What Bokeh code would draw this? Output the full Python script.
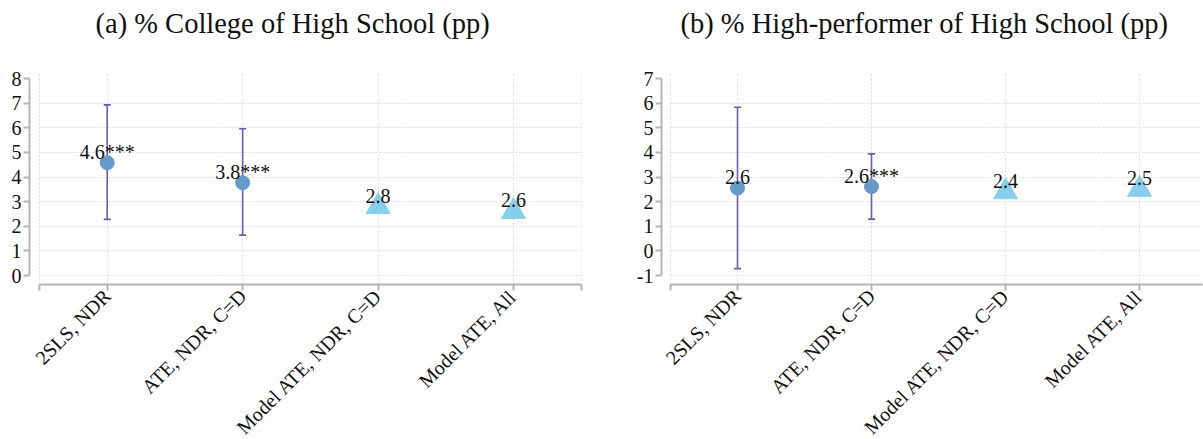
import math
from bokeh.plotting import figure
from bokeh.layouts import row
from bokeh.models import FixedTicker, Range1d, Title
from bokeh.embed import file_html
from bokeh.resources import INLINE
from bokeh.core.properties import value

# ---------------- data ----------------
categories = ["2SLS, NDR", "ATE, NDR, C=D", "Model ATE, NDR, C=D", "Model ATE, All"]
est_x = [1, 2]
model_x = [3, 4]

a_title = "(a) % College of High School (pp)"
a_est = [4.58, 3.77]
a_lo = [2.28, 1.64]
a_hi = [6.93, 5.96]
a_model = [2.8, 2.6]
a_labels = ["4.6***", "3.8***", "2.8", "2.6"]
a_yticks = [0, 1, 2, 3, 4, 5, 6, 7, 8]

b_title = "(b) % High-performer of High School (pp)"
b_est = [2.55, 2.61]
b_lo = [-0.72, 1.29]
b_hi = [5.83, 3.94]
b_model = [2.4, 2.5]
b_labels = ["2.6", "2.6***", "2.4", "2.5"]
b_yticks = [-1, 0, 1, 2, 3, 4, 5, 6, 7]

# ---------------- style ----------------
FONT = "Liberation Serif"
AXIS_COLOR = "#B4B4B4"
GRID_COLOR = "#DADADA"
BAR_COLOR = "#6A5BAE"
DOT_COLOR = "#6699CC"
TRI_COLOR = "#87CEEB"
xticks = [0.5, 1, 2, 3, 4, 4.5]


def panel(title, est, lo, hi, model, labels, yticks, yr, xr, frame_w,
          mb_left, mb_right, title_offset):
    p = figure(frame_width=frame_w, frame_height=212,
               x_range=Range1d(*xr), y_range=Range1d(*yr),
               output_backend="svg", toolbar_location=None,
               min_border_left=mb_left, min_border_right=mb_right,
               min_border_top=72, min_border_bottom=147)
    p.outline_line_color = None
    p.background_fill_color = "white"
    p.border_fill_color = "white"

    # title, pushed up by a blank spacer between it and the frame
    p.title = None
    spacer = Title(text=" ", text_font_size="24px", standoff=0)
    main = Title(text=title, text_font=FONT, text_font_size="28.5px",
                 text_font_style="normal", text_color="#111111",
                 align="left", offset=title_offset)
    p.add_layout(spacer, "above")
    p.add_layout(main, "above")

    # y axis
    ya = p.yaxis[0]
    ya.ticker = FixedTicker(ticks=yticks)
    ya.major_label_overrides = {t: str(t) for t in yticks}
    ya.bounds = (yticks[0], yticks[-1])
    ya.axis_line_color = AXIS_COLOR
    ya.axis_line_width = 2
    ya.major_tick_line_color = AXIS_COLOR
    ya.major_tick_line_width = 2
    ya.major_tick_out = 6
    ya.major_tick_in = 0
    ya.minor_tick_line_color = None
    ya.major_label_standoff = 2
    ya.major_label_text_font = FONT
    ya.major_label_text_font_size = "20px"
    ya.major_label_text_color = "#111111"

    # x axis
    xa = p.xaxis[0]
    xa.ticker = FixedTicker(ticks=xticks)
    overrides = {0.5: "", 4.5: ""}
    for i, c in enumerate(categories):
        overrides[i + 1] = c
    xa.major_label_overrides = overrides
    xa.bounds = (0.5, 4.5)
    xa.axis_line_color = AXIS_COLOR
    xa.axis_line_width = 2
    xa.major_tick_line_color = AXIS_COLOR
    xa.major_tick_line_width = 2
    xa.major_tick_out = 6
    xa.major_tick_in = 0
    xa.minor_tick_line_color = None
    xa.major_label_standoff = 2
    xa.major_label_orientation = math.pi / 4
    xa.major_label_text_font = FONT
    xa.major_label_text_font_size = "20px"
    xa.major_label_text_color = "#111111"

    # grids
    p.xgrid.ticker = FixedTicker(ticks=xticks)
    p.ygrid.ticker = FixedTicker(ticks=yticks[:-1])
    for g in (p.xgrid[0], p.ygrid[0]):
        g.grid_line_color = GRID_COLOR
        g.grid_line_dash = "2 2"
        g.grid_line_width = 1
    p.ygrid[0].cross_bounds = (0.5, min(4.5, xr[1]))

    # error bars
    p.segment(x0=est_x, y0=lo, x1=est_x, y1=hi, line_color=BAR_COLOR, line_width=1.6)
    p.scatter(x=est_x, y=lo, marker="dash", size=7, line_color=BAR_COLOR, line_width=1.6)
    p.scatter(x=est_x, y=hi, marker="dash", size=7, line_color=BAR_COLOR, line_width=1.6)
    # points
    p.scatter(x=est_x, y=est, size=14, fill_color=DOT_COLOR, line_color=DOT_COLOR)
    p.scatter(x=model_x, y=model, marker="triangle", size=24,
              fill_color=TRI_COLOR, line_color=TRI_COLOR)
    # value labels
    p.text(x=est_x + model_x, y=list(est) + list(model), text=labels,
           text_align="center", text_baseline="middle", y_offset=-11,
           text_font=value(FONT), text_font_size="20px", text_color="#111111")
    return p


p1 = panel(a_title, a_est, a_lo, a_hi, a_model, a_labels, a_yticks,
           (-0.365, 8.244), (0.4262, 4.502), 552, 29, 50, 66)
p2 = panel(b_title, b_est, b_lo, b_hi, b_model, b_labels, b_yticks,
           (-1.365, 7.244), (0.4328, 4.470), 541, 30, 1, 19)

layout = row(p1, p2)
open("out.html", "w").write(file_html(layout, INLINE))
